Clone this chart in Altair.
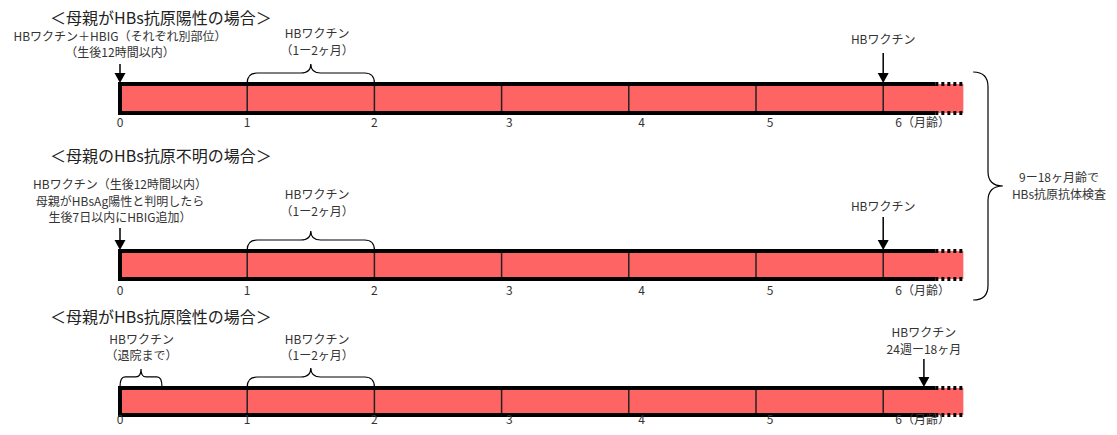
import altair as alt
import pandas as pd

# ---------------- data (months of age) ----------------
month_dividers = [1, 2, 3, 4, 5, 6]
tick_labels = ["0", "1", "2", "3", "4", "5", "6（月齢）"]
tick_label_month = [0, 1, 2, 3.06, 4.1, 5.11, 6.31]
bar_start = 0
bar_end_solid = 6.41
bar_end_dotted = 6.63

panel_titles = ["＜母親がHBs抗原陽性の場合＞", "＜母親のHBs抗原不明の場合＞", "＜母親がHBs抗原陰性の場合＞"]

# arrows: (panel, month)
arrow_panel = [0, 0, 1, 1, 2]
arrow_month = [0, 6, 0, 6, 6.32]

# braces: (panel, from month, to month)
brace_panel = [0, 1, 2]
brace_from = [1, 1, 1]
brace_to = [2, 2, 2]
small_brace = (2, 0, 0.33)

# annotation texts: (panel, month, text)
notes_panel = [0, 0, 0, 0, 0,
               1, 1, 1, 1, 1, 1,
               2, 2, 2, 2, 2, 2]
notes_month = [0, 0, 1.55, 1.55, 6,
               0, 0, 0, 1.55, 1.55, 6,
               0.17, 0.17, 1.55, 1.55, 6.32, 6.32]
notes_text = ["HBワクチン＋HBIG（それぞれ別部位）", "（生後12時間以内）", "HBワクチン", "（1ー2ヶ月）", "HBワクチン",
              "HBワクチン（生後12時間以内）", "母親がHBsAg陽性と判明したら", "生後7日以内にHBIG追加）",
              "HBワクチン", "（1ー2ヶ月）", "HBワクチン",
              "HBワクチン", "（退院まで）", "HBワクチン", "（1ー2ヶ月）", "HBワクチン", "24週ー18ヶ月"]
right_note = ["9ー18ヶ月齢で", "HBs抗原抗体検査"]

# ---------------- layout (page rows) ----------------
PX_PER_MONTH = 127.2
ORIGIN_PX = 120
W, H = 1101, 419
X0 = (8 - ORIGIN_PX) / PX_PER_MONTH
X1 = X0 + W / PX_PER_MONTH
bar_top = [84, 251, 388]
bar_bottom = [113, 279, 415]
title_row = [19, 157, 318]
tick_row = [123, 291, 420]
arrow_stem_top = [64, 53, 228, 217, 359]
notes_row = [37, 53, 34, 51, 40,
             185, 202, 218, 195, 212, 207,
             340, 356, 340, 356, 333, 350]
right_note_month = (1059 - ORIGIN_PX) / PX_PER_MONTH
right_note_rows = [178, 195]
right_brace_month = (988 - ORIGIN_PX) / PX_PER_MONTH
right_brace_row = 186

FONT = "Noto Sans CJK JP"
RED = "#ff6464"
INK = "#222222"

xs = alt.Scale(domain=[X0, X1], nice=False, zero=False)
ys = alt.Scale(domain=[8, 8 + H], reverse=True, nice=False, zero=False)


def X(f="x"):
    return alt.X(f"{f}:Q", scale=xs, axis=None)


def Y(f="y"):
    return alt.Y(f"{f}:Q", scale=ys, axis=None)


# bars
bars_df = pd.DataFrame({"x": [bar_start] * 3, "x2": [bar_end_dotted] * 3,
                        "y": bar_top, "y2": bar_bottom})
bars = alt.Chart(bars_df).mark_rect(color=RED).encode(x=X(), x2="x2", y=Y(), y2="y2")

edge_rows = bar_top + bar_bottom
solid_df = pd.DataFrame({"x": [bar_start] * 6, "x2": [bar_end_solid] * 6, "y": edge_rows})
solid = alt.Chart(solid_df).mark_rule(color="black", strokeWidth=4).encode(x=X(), x2="x2", y=Y())
dotted_df = pd.DataFrame({"x": [bar_end_solid] * 6, "x2": [bar_end_dotted] * 6, "y": edge_rows})
dotted = alt.Chart(dotted_df).mark_rule(color="black", strokeWidth=4, strokeDash=[3, 3]).encode(
    x=X(), x2="x2", y=Y())
left_df = pd.DataFrame({"x": [bar_start] * 3, "y": [t - 2 for t in bar_top], "y2": [b + 2 for b in bar_bottom]})
left = alt.Chart(left_df).mark_rule(color="black", strokeWidth=4).encode(x=X(), y=Y(), y2="y2")

div_rows = []
for p in range(3):
    for m in month_dividers:
        div_rows.append({"x": m, "y": bar_top[p], "y2": bar_bottom[p]})
dividers = alt.Chart(pd.DataFrame(div_rows)).mark_rule(color=INK, strokeWidth=1.5).encode(
    x=X(), y=Y(), y2="y2")

# tick labels
tick_rows = []
for p in range(3):
    for t, m in zip(tick_labels, tick_label_month):
        tick_rows.append({"x": m, "y": tick_row[p], "t": t})
ticks = alt.Chart(pd.DataFrame(tick_rows)).mark_text(
    font=FONT, fontSize=12, color="#333333", baseline="middle", align="center").encode(
    x=X(), y=Y(), text="t:N")

# titles
titles_df = pd.DataFrame({"x": [-0.55] * 3, "y": title_row, "t": panel_titles})
titles = alt.Chart(titles_df).mark_text(
    font=FONT, fontSize=16, color=INK, baseline="middle", align="left").encode(
    x=X(), y=Y(), text="t:N")

# notes
notes_df = pd.DataFrame({"x": notes_month, "y": notes_row, "t": notes_text})
notes = alt.Chart(notes_df).mark_text(
    font=FONT, fontSize=12, color="#333333", baseline="middle", align="center").encode(
    x=X(), y=Y(), text="t:N")
rnote_df = pd.DataFrame({"x": [right_note_month] * 2, "y": right_note_rows, "t": right_note})
rnote = alt.Chart(rnote_df).mark_text(
    font=FONT, fontSize=12, color="#333333", baseline="middle", align="center").encode(
    x=X(), y=Y(), text="t:N")

# arrows
stem_df = pd.DataFrame({"x": arrow_month, "y": arrow_stem_top,
                        "y2": [bar_top[p] - 6 for p in arrow_panel]})
stems = alt.Chart(stem_df).mark_rule(color="black", strokeWidth=1.5).encode(x=X(), y=Y(), y2="y2")
head_df = pd.DataFrame({"x": arrow_month, "y": [bar_top[p] - 1 for p in arrow_panel]})
heads = alt.Chart(head_df).mark_point(
    shape="M0,0L-0.88,-1.6L0.88,-1.6Z", size=156, filled=True, color="black", opacity=1).encode(
    x=X(), y=Y())

# braces
BRACE = ("M-1,0Q-1,-0.157,-0.843,-0.157L-0.157,-0.157Q0,-0.157,0,-0.3"
         "Q0,-0.157,0.157,-0.157L0.843,-0.157Q1,-0.157,1,0")
brace_df = pd.DataFrame({"x": [(a + b) / 2 for a, b in zip(brace_from, brace_to)],
                         "y": [bar_top[p] - 1 for p in brace_panel]})
braces = alt.Chart(brace_df).mark_point(
    shape=BRACE, size=PX_PER_MONTH ** 2, filled=False, color="black", strokeWidth=1.2, opacity=1).encode(
    x=X(), y=Y())

SMALL = ("M-1,0Q-1,-0.48,-0.76,-0.48L-0.24,-0.48Q0,-0.48,0,-0.86"
         "Q0,-0.48,0.24,-0.48L0.76,-0.48Q1,-0.48,1,0")
sb_px = (small_brace[2] - small_brace[1]) * PX_PER_MONTH
sbrace_df = pd.DataFrame({"x": [(small_brace[1] + small_brace[2]) / 2], "y": [bar_top[small_brace[0]] - 1]})
sbrace = alt.Chart(sbrace_df).mark_point(
    shape=SMALL, size=sb_px ** 2, filled=False, color="black", strokeWidth=1.2, opacity=1).encode(
    x=X(), y=Y())

RIGHT = ("M-0.13,-1Q0,-1,0,-0.87L0,-0.13Q0,0,0.13,0Q0,0,0,0.13L0,0.87Q0,1,-0.13,1")
rb_df = pd.DataFrame({"x": [right_brace_month], "y": [right_brace_row]})
rbrace = alt.Chart(rb_df).mark_point(
    shape=RIGHT, size=228 ** 2, filled=False, color="black", strokeWidth=1.2, opacity=1).encode(
    x=X(), y=Y())

chart = alt.layer(
    bars, dividers, solid, dotted, left, ticks, titles, notes, rnote, stems, heads, braces, sbrace, rbrace
).properties(
    width=W, height=H, padding=0, autosize=alt.AutoSizeParams(type="none")
).configure_view(stroke=None)

chart.save("out.html", embed_options={"renderer": "svg", "actions": False})
